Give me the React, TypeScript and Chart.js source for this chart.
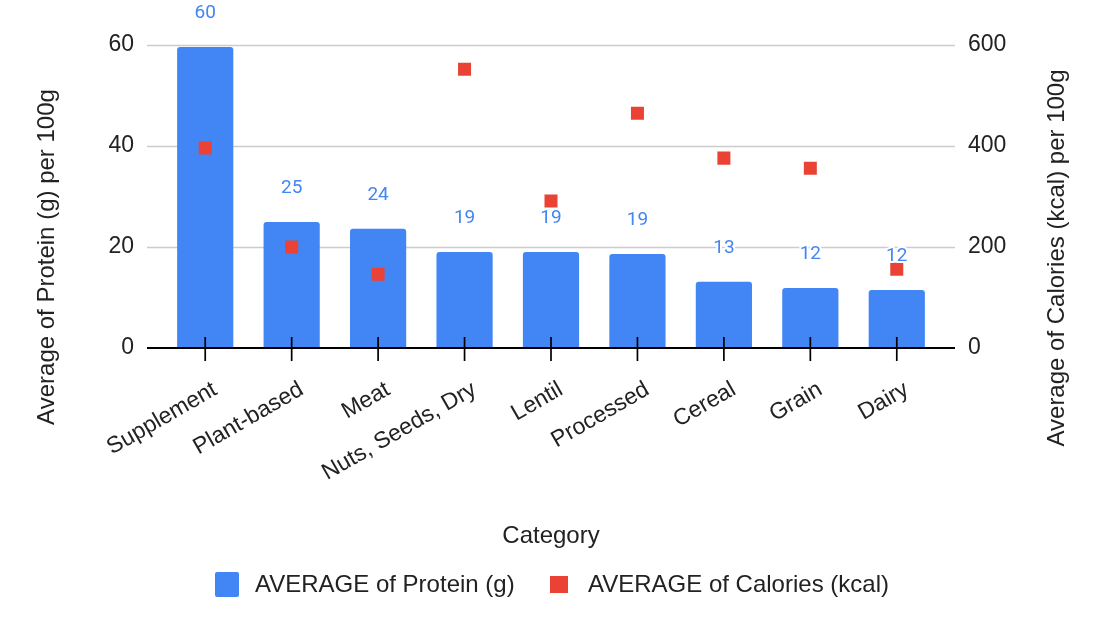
import { useEffect, useRef } from "react";
import { Chart, registerables, Plugin } from "chart.js";

Chart.register(...registerables);

const categories = ["Supplement", "Plant-based", "Meat", "Nuts, Seeds, Dry", "Lentil", "Processed", "Cereal", "Grain", "Dairy"];
const proteinValues = [59.6, 24.95, 23.6, 19.0, 19.0, 18.6, 13.1, 11.9, 11.5];
const calorieValues = [396, 200, 146, 552, 291, 465, 376, 356, 156];
const proteinTicks = [0, 20, 40, 60];
const calorieTicks = [0, 200, 400, 600];

const BLUE = "#4285f4";
const RED = "#ea4335";
const TEXT = "#222222";
const SANS = "'Liberation Sans', Arial, sans-serif";

// gridlines, baseline and tick marks drawn like Google Charts (grid wider than the bar bands)
const frame: Plugin = {
  id: "frame",
  beforeDatasetsDraw(chart) {
    const { ctx, chartArea } = chart;
    const y = chart.scales.y;
    ctx.save();
    ctx.strokeStyle = "#cccccc";
    ctx.lineWidth = 1.4;
    proteinTicks.forEach((t) => {
      if (t === 0) return;
      const py = Math.round(y.getPixelForValue(t)) + 0.5;
      ctx.beginPath();
      ctx.moveTo(chartArea.left - 15, py);
      ctx.lineTo(chartArea.right + 15, py);
      ctx.stroke();
    });
    ctx.restore();
  },
  afterDatasetsDraw(chart) {
    const { ctx, chartArea } = chart;
    const x = chart.scales.x;
    const y = chart.scales.y;
    const base = y.getPixelForValue(0);
    ctx.save();
    ctx.strokeStyle = "#000";
    ctx.lineWidth = 2;
    ctx.beginPath();
    ctx.moveTo(chartArea.left - 15, base);
    ctx.lineTo(chartArea.right + 15, base);
    ctx.stroke();
    ctx.lineWidth = 1.7;
    categories.forEach((_, i) => {
      const px = x.getPixelForValue(i);
      ctx.beginPath();
      ctx.moveTo(px, base - 11);
      ctx.lineTo(px, base + 13);
      ctx.stroke();
    });

    // value labels above the bars
    const meta = chart.getDatasetMeta(0);
    ctx.font = "19px Roboto, sans-serif";
    ctx.textAlign = "center";
    ctx.textBaseline = "middle";
    ctx.lineJoin = "round";
    meta.data.forEach((bar: any, i) => {
      const label = String(Math.round(proteinValues[i]));
      const ly = bar.y - 33.5;
      ctx.strokeStyle = "#ffffff";
      ctx.lineWidth = 4;
      ctx.strokeText(label, bar.x, ly);
      ctx.fillStyle = BLUE;
      ctx.fillText(label, bar.x, ly);
    });
    ctx.restore();
  },
  afterDraw(chart) {
    const { ctx } = chart;
    ctx.save();
    ctx.fillStyle = TEXT;
    ctx.font = `24px ${SANS}`;
    ctx.textAlign = "center";
    ctx.textBaseline = "middle";

    ctx.save();
    ctx.translate(47, 257);
    ctx.rotate(-Math.PI / 2);
    ctx.fillText("Average of Protein (g) per 100g", 0, 0);
    ctx.restore();

    ctx.save();
    ctx.translate(1057, 258);
    ctx.rotate(-Math.PI / 2);
    ctx.fillText("Average of Calories (kcal) per 100g", 0, 0);
    ctx.restore();

    ctx.fillText("Category", 551, 536);

    // legend
    ctx.textAlign = "left";
    ctx.fillStyle = BLUE;
    ctx.beginPath();
    (ctx as any).roundRect(215, 572, 24, 25, 2);
    ctx.fill();
    ctx.fillStyle = TEXT;
    ctx.fillText("AVERAGE of Protein (g)", 255, 585);
    ctx.fillStyle = RED;
    ctx.fillRect(550, 576, 18, 17);
    ctx.fillStyle = TEXT;
    ctx.fillText("AVERAGE of Calories (kcal)", 588, 585);
    ctx.restore();
  },
};

export default function App() {
  const canvasRef = useRef<HTMLCanvasElement | null>(null);
  const chartRef = useRef<Chart | null>(null);

  useEffect(() => {
    document.body.style.margin = "0";
    if (!canvasRef.current) return;
    if (chartRef.current) chartRef.current.destroy();
    const ctx = canvasRef.current.getContext("2d");
    if (!ctx) return;

    chartRef.current = new Chart(ctx, {
      type: "bar",
      data: {
        labels: categories,
        datasets: [
          {
            type: "bar",
            label: "AVERAGE of Protein (g)",
            data: proteinValues,
            backgroundColor: BLUE,
            borderRadius: 3,
            borderSkipped: "start",
            barPercentage: 0.65,
            categoryPercentage: 1,
            yAxisID: "y",
            order: 2,
          },
          {
            type: "line",
            label: "AVERAGE of Calories (kcal)",
            data: calorieValues,
            showLine: false,
            pointStyle: "rect",
            pointRadius: 9.2,
            pointBackgroundColor: RED,
            pointBorderWidth: 0,
            backgroundColor: RED,
            borderColor: RED,
            yAxisID: "y1",
            order: 1,
          },
        ],
      },
      options: {
        responsive: false,
        animation: false,
        layout: { padding: { top: 45, left: 0, right: 0, bottom: 0 } },
        plugins: {
          legend: { display: false },
          tooltip: { enabled: false },
        },
        scales: {
          x: {
            type: "category",
            offset: true,
            grid: { display: false, drawTicks: false },
            border: { display: false },
            ticks: {
              autoSkip: false,
              maxRotation: 30,
              minRotation: 30,
              labelOffset: 10,
              padding: 28,
              color: TEXT,
              font: { family: SANS, size: 23 },
            },
            afterFit: (scale) => {
              scale.height = 282;
            },
          },
          y: {
            position: "left",
            min: 0,
            max: 60,
            afterBuildTicks: (scale) => {
              scale.ticks = proteinTicks.map((v) => ({ value: v }));
            },
            grid: { display: false, drawTicks: false },
            border: { display: false },
            ticks: {
              padding: 28,
              color: TEXT,
              font: { family: SANS, size: 23 },
            },
            afterFit: (scale) => {
              scale.width = 162;
            },
          },
          y1: {
            position: "right",
            min: 0,
            max: 600,
            afterBuildTicks: (scale) => {
              scale.ticks = calorieTicks.map((v) => ({ value: v }));
            },
            grid: { display: false, drawTicks: false },
            border: { display: false },
            ticks: {
              padding: 28,
              color: TEXT,
              font: { family: SANS, size: 23 },
            },
            afterFit: (scale) => {
              scale.width = 162;
            },
          },
        },
      },
      plugins: [frame],
    });

    return () => {
      if (chartRef.current) {
        chartRef.current.destroy();
        chartRef.current = null;
      }
    };
  }, []);

  return (
    <div style={{ width: 1102, height: 630, background: "#fff" }}>
      <canvas ref={canvasRef} width={1102} height={630} />
    </div>
  );
}
